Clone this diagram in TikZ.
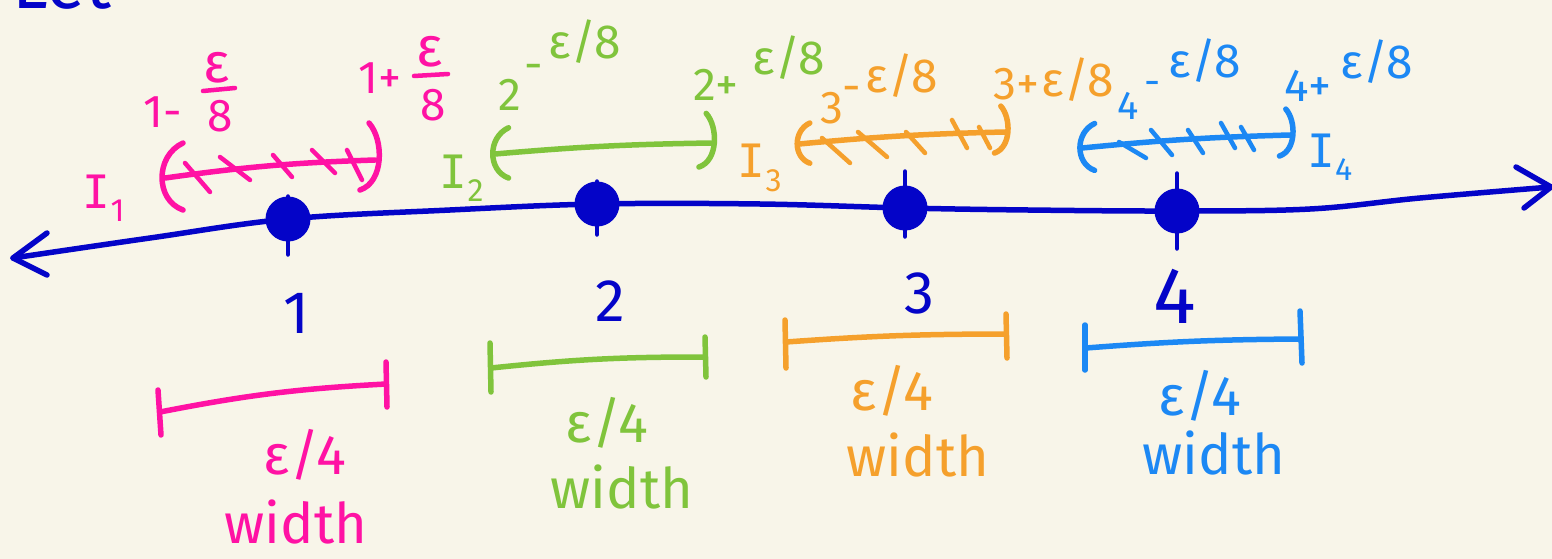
\documentclass[tikz,border=0pt]{standalone}
\usepackage{fontspec}
\setmainfont{Fira Sans}
\newfontfamily\monof{DejaVu Sans Mono}
\usetikzlibrary{arrows.meta}
\definecolor{bg}{HTML}{F8F5E9}
\definecolor{axisblue}{HTML}{0404C8}
\definecolor{pinkc}{HTML}{FF12A4}
\definecolor{limec}{HTML}{80C43C}
\definecolor{amberc}{HTML}{F5A02C}
\definecolor{skyc}{HTML}{1C88F4}
\newcommand\fs[1]{\fontsize{#1}{#1}\selectfont}
\newcommand\Isub[1]{{\monof I}\textsubscript{#1}}
\begin{document}
\begin{tikzpicture}[x=1pt,y=-1pt,
  pen/.style={line width=5.5pt,line cap=round,line join=round},
  tpen/.style={line width=4.5pt,line cap=round,line join=round},
  dot/.style={circle,fill=axisblue,draw=axisblue,line width=1pt,minimum size=44pt,inner sep=0pt},
  lbl/.style={inner sep=0pt,font=\fs{46}},
  sm/.style={inner sep=0pt,font=\fs{48}},
  big/.style={inner sep=0pt,font=\fs{60}},
  wd/.style={inner sep=0pt,font=\fs{56}},
  lparen/.pic={\draw[pen] (18,-35) .. controls (-10,-22) and (-10,22) .. (18,32);},
  rparen/.pic={\draw[pen] (-6,-37) .. controls (9,-20) and (9,22) .. (-15,30);},
]
\fill[bg] (0,0) rectangle (1552,559);
\useasboundingbox (0,0) rectangle (1552,559);

% partly visible heading
\node[anchor=base west,inner sep=0pt,font=\fs{72},text=axisblue] (title) at (12,9) {Let};

% ---------- axis ----------
\coordinate (L) at (13,258);
\coordinate (R) at (1551,187);
\node[dot] (d1) at (288,219) {};
\node[dot] (d2) at (597,204) {};
\node[dot] (d3) at (905,208) {};
\node[dot] (d4) at (1177,211) {};
\draw[pen,axisblue] plot[smooth,tension=0.6] coordinates {(L) (150,238) (d1.center) (450,210) (d2.center) (760,204) (d3.center) (1028,210) (d4.center) (1310,209) (1420,198) (R)};
\draw[pen,axisblue] (L) ++(34,-25) -- (L) -- ++(34,17);
\draw[pen,axisblue] (R) ++(-35,-20) -- (R) -- ++(-27,21);
\draw[tpen,axisblue] (d1.north) -- ([yshift=-13pt]d1.south);
\draw[tpen,axisblue] (d2.north) -- ([yshift=-8pt]d2.south);
\draw[tpen,axisblue] ([yshift=14pt]d3.north) -- ([yshift=-6pt]d3.south);
\draw[tpen,axisblue] ([yshift=15pt]d4.north) -- ([yshift=-15pt]d4.south);

\node[big,text=axisblue] (n1) at (296,313) {1};
\node[big,text=axisblue] (n2) at (610,301) {2};
\node[big,text=axisblue] (n3) at (919,293) {3};
\node[inner sep=0pt,font=\fs{80},text=axisblue] (n4) at (1175,296) {4};

% ---------- I1 (pink) ----------
\begin{scope}[pinkc]
\coordinate (a1) at (165,178);
\coordinate (b1) at (375,160);
\draw[pen] (a1) to[bend left=3] (b1);
\pic at (a1) {lparen};
\pic at (b1) {rparen};
\foreach \x/\y/\u/\v in {185/163/210/192, 220/157/250/180, 273/155/292/177, 312/150/335/173, 347/150/362/180}
  \draw[tpen] (\x,\y) -- (\u,\v);
\node[lbl,text=pinkc] (I1) at (104,198) {\Isub{1}};
\node[lbl,text=pinkc] (m1) at (163,112) {1-};
\node[font=\fs{56},inner sep=0pt,text=pinkc] (m1e) at (217,68) {ε};
\draw[tpen] (203,91) -- (235,88);
\node[lbl,text=pinkc] (m1d) at (220,116) {8};
\node[lbl,text=pinkc] (p1) at (380,78) {1+};
\node[font=\fs{56},inner sep=0pt,text=pinkc] (p1e) at (430,52) {ε};
\draw[tpen] (414,76) -- (448,74);
\node[lbl,text=pinkc] (p1d) at (433,105) {8};
% width bar
\coordinate (w1l) at (160,412);
\coordinate (w1r) at (386,384);
\draw[pen] (w1l) to[bend left=4] (w1r);
\draw[pen] (w1l) ++(-2,-22) -- ++(3,45);
\draw[pen] (w1r) ++(0,-22) -- ++(1,45);
\node[wd,text=pinkc] (e1) at (305,455) {ε/4};
\node[wd,text=pinkc] (t1) at (296,522) {width};
\end{scope}

% ---------- I2 (green) ----------
\begin{scope}[limec]
\coordinate (a2) at (495,154);
\coordinate (b2) at (711,143);
\draw[pen] (a2) to[bend left=2] (b2);
\pic[scale=0.75] at (a2) {lparen};
\pic[scale=0.8] at (b2) {rparen};
\node[lbl,text=limec] (I2) at (462,178) {\Isub{2}};
\node[lbl,text=limec] (m2) at (510,95) {2};
\node[lbl,text=limec] (m2s) at (534,72) {-};
\node[sm,text=limec] (m2e) at (585,42) {ε/8};
\node[lbl,text=limec] (p2) at (716,85) {2+};
\node[sm,text=limec] (p2e) at (789,58) {ε/8};
\coordinate (w2l) at (491,368);
\coordinate (w2r) at (705,357);
\draw[pen] (w2l) to[bend left=3] (w2r);
\draw[pen] (w2l) ++(-1,-25) -- ++(1,49);
\draw[pen] (w2r) ++(0,-20) -- ++(1,40);
\node[wd,text=limec] (e2) at (607,423) {ε/4};
\node[wd,text=limec] (t2) at (622,487) {width};
\end{scope}

% ---------- I3 (orange) ----------
\begin{scope}[amberc]
\coordinate (a3) at (799,144);
\coordinate (b3) at (1005,132);
\draw[pen] (a3) to[bend left=2] (b3);
\pic[scale=0.6] at (a3) {lparen};
\pic[scale=0.7] at (b3) {rparen};
\foreach \x/\y/\u/\v in {822/138/850/163, 858/132/887/157, 906/132/925/153, 952/120/967/148, 979/127/990/148}
  \draw[tpen] (\x,\y) -- (\u,\v);
\node[lbl,text=amberc] (I3) at (760,168) {\Isub{3}};
\node[lbl,text=amberc] (m3) at (832,108) {3};
\node[lbl,text=amberc] (m3s) at (852,94) {-};
\node[sm,text=amberc] (m3e) at (902,76) {ε/8};
\node[lbl,text=amberc] (p3) at (1016,84) {3+};
\node[sm,text=amberc] (p3e) at (1078,80) {ε/8};
\coordinate (w3l) at (786,342);
\coordinate (w3r) at (1006,334);
\draw[pen] (w3l) to[bend left=2] (w3r);
\draw[pen] (w3l) ++(-1,-22) -- ++(1,48);
\draw[pen] (w3r) ++(0,-20) -- ++(1,44);
\node[wd,text=amberc] (e3) at (892,391) {ε/4};
\node[wd,text=amberc] (t3) at (918,455) {width};
\end{scope}

% ---------- I4 (light blue) ----------
\begin{scope}[skyc]
\coordinate (a4) at (1082,148);
\coordinate (b4) at (1290,135);
\draw[pen] (a4) to[bend left=2] (b4);
\pic[scale=0.7] at (a4) {lparen};
\pic[scale=0.7] at (b4) {rparen};
\foreach \x/\y/\u/\v in {1119/142/1146/158, 1151/130/1172/155, 1188/130/1203/153, 1221/123/1235/148, 1241/127/1254/150}
  \draw[tpen] (\x,\y) -- (\u,\v);
\node[lbl,text=skyc] (I4) at (1330,157) {\Isub{4}};
\node[font=\fs{40},inner sep=0pt,text=skyc] (m4) at (1128,106) {4};
\node[font=\fs{40},inner sep=0pt,text=skyc] (m4s) at (1153,88) {-};
\node[sm,text=skyc] (m4e) at (1205,61) {ε/8};
\node[lbl,text=skyc] (p4) at (1308,86) {4+};
\node[sm,text=skyc] (p4e) at (1377,62) {ε/8};
\coordinate (w4l) at (1086,348);
\coordinate (w4r) at (1300,339);
\draw[pen] (w4l) to[bend left=2] (w4r);
\draw[pen] (w4l) ++(-1,-23) -- ++(0,45);
\draw[pen] (w4r) ++(0,-28) -- ++(2,52);
\node[wd,text=skyc] (e4) at (1200,396) {ε/4};
\node[wd,text=skyc] (t4) at (1214,453) {width};
\end{scope}
\end{tikzpicture}
\end{document}
